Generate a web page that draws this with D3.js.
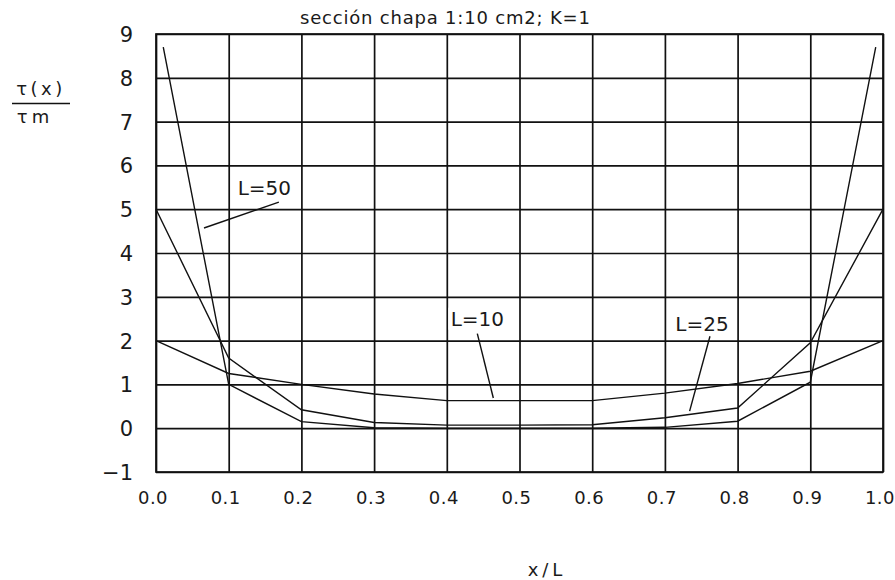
<!DOCTYPE html>
<html>
<head>
<meta charset="utf-8">
<script src="https://cdn.jsdelivr.net/npm/d3@7"></script>
<style>
  body { margin: 0; background: #fff; }
  text { font-family: "DejaVu Sans", sans-serif; fill: #1a1a1a; }
</style>
</head>
<body>
<div id="chart"></div>
<script>
// Data (x/L, tau(x)/tau_m)
const x_ticks = [0.0, 0.1, 0.2, 0.3, 0.4, 0.5, 0.6, 0.7, 0.8, 0.9, 1.0];
const y_ticks = [-1, 0, 1, 2, 3, 4, 5, 6, 7, 8, 9];

const xs_L10 = [0.0, 0.1, 0.2, 0.3, 0.4, 0.5, 0.6, 0.7, 0.8, 0.9, 1.0];
const ys_L10 = [2.0, 1.25, 1.0, 0.78, 0.63, 0.63, 0.63, 0.8, 1.02, 1.3, 2.0];

const xs_L25 = [0.0, 0.1, 0.2, 0.3, 0.4, 0.5, 0.6, 0.7, 0.8, 0.9, 1.0];
const ys_L25 = [5.0, 1.6, 0.42, 0.13, 0.07, 0.07, 0.08, 0.24, 0.46, 1.95, 5.0];

const xs_L50 = [0.01, 0.1, 0.2, 0.3, 0.4, 0.5, 0.6, 0.7, 0.8, 0.9, 0.99];
const ys_L50 = [8.7, 1.0, 0.15, 0.01, 0.0, 0.0, 0.0, 0.02, 0.16, 1.05, 8.7];

// Curve labels: text baseline position and leader line ends (data units)
const label_names = ["L=50", "L=10", "L=25"];
const label_pos = [[0.149, 5.32], [0.442, 2.34], [0.751, 2.23]];
const leader_from = [[0.169, 5.16], [0.442, 2.16], [0.762, 2.10]];
const leader_to = [[0.066, 4.57], [0.464, 0.69], [0.734, 0.39]];

const title = "sección chapa 1:10 cm2; K=1";

const W = 895, H = 580;
const margin = {top: 34, right: 12, bottom: 108, left: 156};
const width = W - margin.left - margin.right,
      height = H - margin.top - margin.bottom;

const svg = d3.select("#chart").append("svg")
    .attr("width", W)
    .attr("height", H);

const inner = svg.append("g")
    .attr("transform", "translate(" + margin.left + "," + margin.top + ")");

const x = d3.scaleLinear().domain([0, 1]).range([0, width]);
const y = d3.scaleLinear().domain([-1, 9]).range([height, 0]);

// Grid (drawn as axes with full-length ticks)
inner.append("g")
    .attr("transform", "translate(0," + height + ")")
    .call(d3.axisBottom(x).tickValues(x_ticks).tickSize(-height).tickFormat(""))
    .call(g => g.select(".domain").remove())
    .selectAll("line").attr("stroke", "#111").attr("stroke-width", 1.7);

inner.append("g")
    .call(d3.axisLeft(y).tickValues(y_ticks).tickSize(-width).tickFormat(""))
    .call(g => g.select(".domain").remove())
    .selectAll("line").attr("stroke", "#111").attr("stroke-width", 1.7);

inner.append("rect")
    .attr("width", width).attr("height", height)
    .attr("fill", "none").attr("stroke", "#111").attr("stroke-width", 1.7);

// Tick labels
inner.selectAll(".xlab")
    .data(x_ticks)
    .enter().append("text")
    .attr("x", d => x(d) - 3)
    .attr("y", height + 32)
    .attr("text-anchor", "middle")
    .style("font-size", "18px")
    .style("letter-spacing", "0.5px")
    .text(d => d3.format(".1f")(d));

inner.selectAll(".ylab")
    .data(y_ticks)
    .enter().append("text")
    .attr("x", -23)
    .attr("y", d => y(d) + 8)
    .attr("text-anchor", "end")
    .style("font-size", "21px")
    .text(d => d < 0 ? "\u2212" + Math.abs(d) : d);

// Curves
const line = d3.line().x(d => x(d[0])).y(d => y(d[1]));
const series = [
  d3.zip(xs_L10, ys_L10),
  d3.zip(xs_L25, ys_L25),
  d3.zip(xs_L50, ys_L50)
];
inner.selectAll(".curve")
    .data(series)
    .enter().append("path")
    .attr("d", line)
    .attr("fill", "none")
    .attr("stroke", "#111")
    .attr("stroke-width", 1.4);

// Curve labels with leader lines
label_names.forEach((name, i) => {
  inner.append("line")
      .attr("x1", x(leader_from[i][0])).attr("y1", y(leader_from[i][1]))
      .attr("x2", x(leader_to[i][0])).attr("y2", y(leader_to[i][1]))
      .attr("stroke", "#111").attr("stroke-width", 1.4);
  inner.append("rect")
      .attr("x", x(label_pos[i][0]) - 29)
      .attr("y", y(label_pos[i][1]) - 18)
      .attr("width", 58).attr("height", 22)
      .attr("fill", "#fff");
  inner.append("text")
      .attr("x", x(label_pos[i][0]))
      .attr("y", y(label_pos[i][1]))
      .attr("text-anchor", "middle")
      .style("font-size", "20px")
      .text(name);
});

// Title
svg.append("text")
    .attr("x", 300)
    .attr("y", 24)
    .style("font-size", "18px")
    .style("letter-spacing", "0.8px")
    .text(title);

// Axis labels
svg.append("text")
    .attr("x", 547)
    .attr("y", 576)
    .attr("text-anchor", "middle")
    .style("font-size", "18px")
    .style("letter-spacing", "4px")
    .text("x/L");

svg.append("text")
    .attr("x", 41).attr("y", 95)
    .attr("text-anchor", "middle")
    .style("font-size", "18px")
    .style("letter-spacing", "3.5px")
    .text("\u03c4(x)");
svg.append("line")
    .attr("x1", 12).attr("x2", 70)
    .attr("y1", 103.5).attr("y2", 103.5)
    .attr("stroke", "#111").attr("stroke-width", 1.6);
svg.append("text")
    .attr("x", 35).attr("y", 123)
    .attr("text-anchor", "middle")
    .style("font-size", "18px")
    .style("letter-spacing", "4px")
    .text("\u03c4m");
</script>
</body>
</html>
